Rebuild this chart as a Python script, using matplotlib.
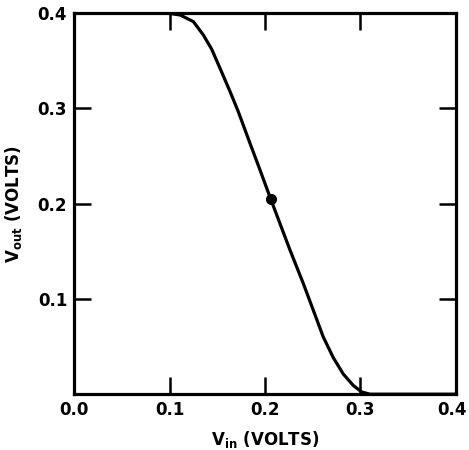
import numpy as np
import matplotlib
matplotlib.use("Agg")
import matplotlib.pyplot as plt
import matplotlib.transforms as mtransforms

# transfer curve
vin = [0.0, 0.09, 0.1005, 0.111, 0.125, 0.1354, 0.1442, 0.1529, 0.1634,
       0.172, 0.1843, 0.1948, 0.206, 0.2262, 0.2401, 0.2506,
       0.261, 0.2715, 0.282, 0.2925, 0.3012, 0.31, 0.4]
vout = [0.4, 0.4, 0.3995, 0.398, 0.391, 0.377, 0.362, 0.342, 0.3176,
        0.2966, 0.2633, 0.2353, 0.2048, 0.1513, 0.1163, 0.0882,
        0.0602, 0.0385, 0.0212, 0.0092, 0.0024, 0.0, 0.0]
dot_x, dot_y = 0.206, 0.205

xticks = [0.0, 0.1, 0.2, 0.3, 0.4]
yticks = [0.1, 0.2, 0.3, 0.4]

plt.rcParams['font.family'] = ['DejaVu Sans']
plt.rcParams['mathtext.default'] = 'regular'

fig = plt.figure(figsize=(4.69, 4.5), dpi=100)
ax = fig.add_axes([0.158, 0.124, 0.814, 0.847])

ax.plot(vin, vout, color='black', lw=2.3, solid_joinstyle='round',
        solid_capstyle='round')
ax.plot(dot_x, dot_y, 'o', color='black', ms=7)

ax.set_xlim(0, 0.4)
ax.set_ylim(0, 0.4)
ax.set_xticks(xticks)
ax.set_xticklabels(['%.1f' % t for t in xticks])
ax.set_yticks(yticks)
ax.set_yticklabels(['%.1f' % t for t in yticks])

ax.tick_params(direction='in', length=12, width=1.8, top=True, right=True,
               labelsize=12, pad=5)
for lab in ax.get_xticklabels() + ax.get_yticklabels():
    lab.set_fontweight('bold')
# nudge the last x label so it stays inside the figure
last = ax.get_xticklabels()[-1]
last.set_transform(last.get_transform() +
                   mtransforms.ScaledTranslation(-3 / 72, 0, fig.dpi_scale_trans))
for s in ax.spines.values():
    s.set_linewidth(2.3)

ax.set_xlabel(r'V$_{in}$ (VOLTS)', fontsize=12, fontweight='bold', labelpad=7)
ax.set_ylabel(r'V$_{out}$ (VOLTS)', fontsize=12, fontweight='bold', labelpad=10)

fig.savefig('out.png', dpi=100)
